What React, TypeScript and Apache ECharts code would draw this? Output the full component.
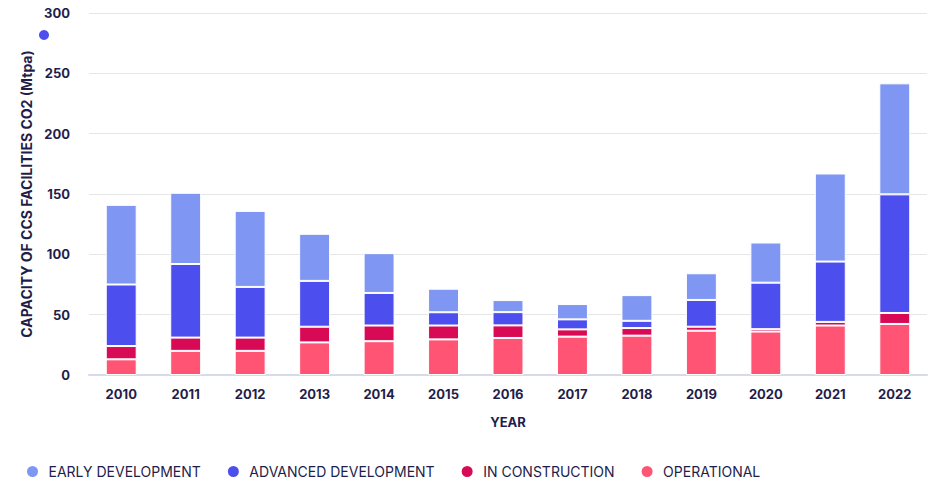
import React, { useEffect, useRef } from "react";
import * as echarts from "echarts";

const years = ["2010","2011","2012","2013","2014","2015","2016","2017","2018","2019","2020","2021","2022"];
const operational = [13, 20, 20, 27, 28, 29.5, 30.7, 31.8, 32.6, 36.7, 36, 41, 42.3];
const inConstruction = [11, 11, 11, 13, 13, 11.5, 10.4, 6, 6.3, 3.3, 2, 3, 9.1];
const advancedDevelopment = [51, 61, 42, 38, 27, 11, 11, 8.3, 6, 22.2, 38.5, 50, 98.3];
const earlyDevelopment = [66, 59, 63, 39, 33, 19.5, 10, 12.7, 21.3, 22.1, 33.3, 73, 92];

const seriesNames = ["EARLY DEVELOPMENT", "ADVANCED DEVELOPMENT", "IN CONSTRUCTION", "OPERATIONAL"];
const colors: Record<string, string> = {
  "EARLY DEVELOPMENT": "#7F96F2",
  "ADVANCED DEVELOPMENT": "#4C4FEE",
  "IN CONSTRUCTION": "#D90A55",
  "OPERATIONAL": "#FF5473",
};

const TEXT = "#1F1D4A";
const FONT = "Inter, 'Noto Sans', sans-serif";

export default function App() {
  const ref = useRef<HTMLDivElement>(null);
  useEffect(() => {
    if (!ref.current) return;
    const chart = echarts.init(ref.current, undefined, { renderer: "svg" });
    const mk = (name: string, data: number[]) => ({
      name,
      type: "bar",
      stack: "total",
      data,
      barWidth: "48%",
      itemStyle: { color: colors[name], borderColor: "#ffffff", borderWidth: 1 },
    });
    chart.setOption({
      animation: false,
      textStyle: { fontFamily: FONT },
      grid: { left: 89, right: 13, top: 13, bottom: 125, containLabel: false },
      legend: {
        data: seriesNames,
        left: 20,
        top: 459,
        icon: "path://M6,0 A6,6 0 1,1 6,12 A6,6 0 1,1 6,0 Z",
        itemWidth: 22,
        itemHeight: 13,
        itemGap: 25,
        textStyle: { color: TEXT, fontSize: 14, fontFamily: FONT, fontWeight: 400 },
      },
      xAxis: {
        type: "category",
        data: years,
        name: "YEAR",
        nameLocation: "middle",
        nameGap: 40,
        nameTextStyle: { color: TEXT, fontWeight: 700, fontSize: 13, fontFamily: FONT },
        axisLine: { lineStyle: { color: "#D6DAEA", width: 2 } },
        axisTick: { show: false },
        axisLabel: { color: TEXT, fontWeight: 700, fontSize: 13, margin: 12, fontFamily: FONT },
      },
      yAxis: {
        type: "value",
        min: 0,
        max: 300,
        interval: 50,
        name: "CAPACITY OF CCS FACILITIES CO2 (Mtpa)",
        nameLocation: "middle",
        nameGap: 53,
        nameTextStyle: { color: TEXT, fontWeight: 700, fontSize: 14, fontFamily: FONT },
        axisLine: { show: false },
        axisTick: { show: false },
        axisLabel: { color: TEXT, fontWeight: 700, fontSize: 13, margin: 19, fontFamily: FONT },
        splitLine: { lineStyle: { color: "#E6E6E8", width: 1 } },
      },
      graphic: [
        { type: "circle", shape: { cx: 44, cy: 35, r: 5 }, style: { fill: "#4C4FEE" } },
      ],
      series: [
        mk("OPERATIONAL", operational),
        mk("IN CONSTRUCTION", inConstruction),
        mk("ADVANCED DEVELOPMENT", advancedDevelopment),
        mk("EARLY DEVELOPMENT", earlyDevelopment),
      ],
    });
    return () => chart.dispose();
  }, []);
  return <div ref={ref} style={{ width: 940, height: 500, position: "absolute", left: 0, top: 0 }} />;
}
